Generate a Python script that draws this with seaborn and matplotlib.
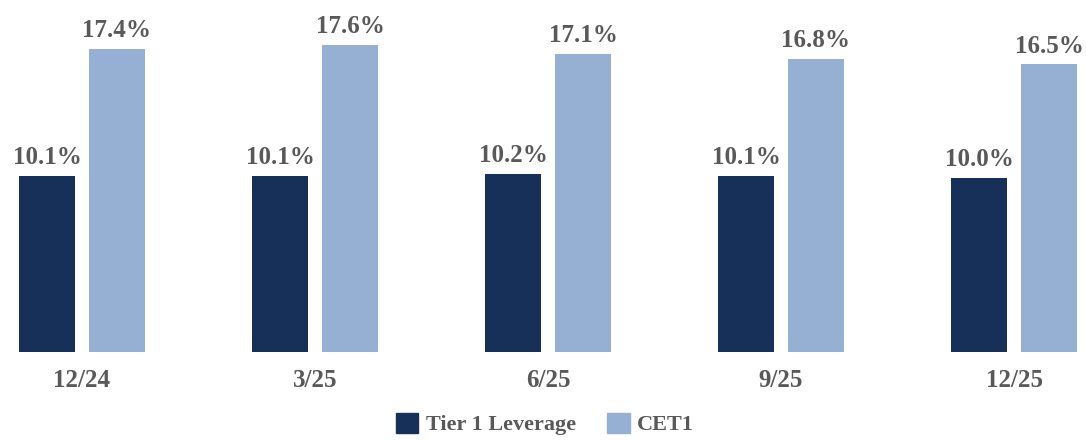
import seaborn as sns
import matplotlib.pyplot as plt
import pandas as pd

# Chart values
periods = ['12/24', '3/25', '6/25', '9/25', '12/25']
tier1_leverage = [10.1, 10.1, 10.2, 10.1, 10.0]
cet1 = [17.4, 17.6, 17.1, 16.8, 16.5]
series_names = ['Tier 1 Leverage', 'CET1']
colors = ['#17305a', '#95b0d2']
text_color = '#595959'

df = pd.DataFrame({
    'period': periods * 2,
    'value': tier1_leverage + cet1,
    'series': [series_names[0]] * len(periods) + [series_names[1]] * len(periods),
})

sns.set_style('white')
plt.rcParams['font.family'] = ['Liberation Serif', 'DejaVu Serif']
plt.rcParams['font.weight'] = 'bold'

fig = plt.figure(figsize=(10.86, 4.4), dpi=100)
ax = fig.add_axes([0, 0.2, 1, 0.8])

sns.barplot(data=df, x='period', y='value', hue='series', palette=colors,
            width=0.6, gap=0.2, saturation=1, linewidth=0, ax=ax, legend=False)

# value labels above the bars
for container in ax.containers:
    ax.bar_label(container, fmt='%.1f%%', padding=5, fontsize=18,
                 fontweight='bold', color=text_color)

ax.set_xlim(-0.352, 4.309)
ax.set_ylim(0, 20.2)
ax.set_xlabel('')
ax.set_ylabel('')
ax.set_yticks([])
ax.tick_params(axis='x', length=0, pad=12, labelsize=18, labelcolor=text_color)
for lbl in ax.get_xticklabels():
    lbl.set_fontweight('bold')
sns.despine(ax=ax, left=True, bottom=True)

# legend at the bottom
handles = [plt.Rectangle((0, 0), 1, 1, color=c) for c in colors]
leg = fig.legend(handles, series_names, loc='lower center', bbox_to_anchor=(0.502, -0.035),
                 ncol=2, frameon=False, handlelength=1.0, handleheight=1.0,
                 handletextpad=0.35, columnspacing=1.4,
                 prop={'size': 16, 'weight': 'bold'})
for t in leg.get_texts():
    t.set_color(text_color)

fig.savefig('out.png', dpi=100)
